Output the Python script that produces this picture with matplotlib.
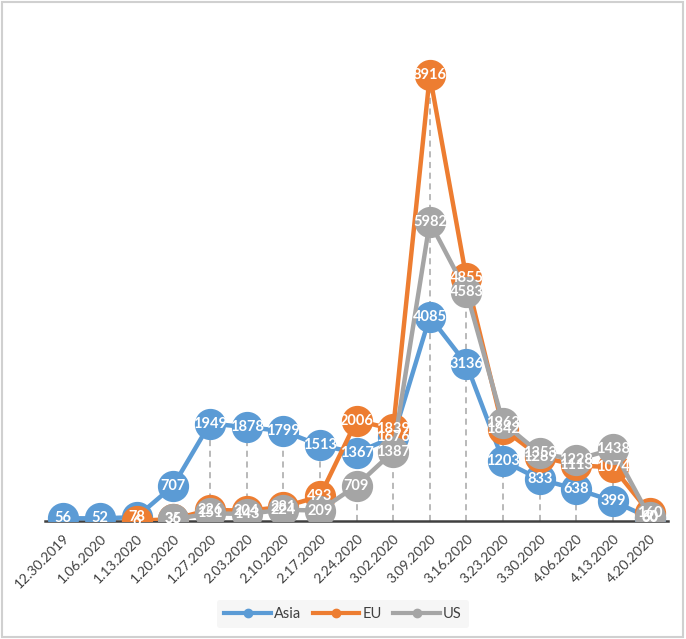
import matplotlib
matplotlib.use("Agg")
import matplotlib.pyplot as plt
from matplotlib.patches import Rectangle

# weekly counts per region
dates = ["12.30.2019", "1.06.2020", "1.13.2020", "1.20.2020", "1.27.2020",
         "2.03.2020", "2.10.2020", "2.17.2020", "2.24.2020", "3.02.2020",
         "3.09.2020", "3.16.2020", "3.23.2020", "3.30.2020", "4.06.2020",
         "4.13.2020", "4.20.2020"]
asia = [56, 52, 78, 707, 1949, 1878, 1799, 1513, 1367, 1676,
        4085, 3136, 1203, 833, 638, 399, 60]
eu = [0, 0, 6, 36, 226, 204, 281, 493, 2006, 1839,
      8916, 4855, 1842, 1289, 1113, 1074, 160]
us = [0, 0, 0, 35, 151, 143, 224, 209, 709, 1387,
      5982, 4583, 1963, 1353, 1228, 1438, 80]
# no data for the first weeks in EU / US
eu_start = 2
us_start = 3

plt.rcParams['font.family'] = ['Lato', 'DejaVu Sans']

fig = plt.figure(figsize=(6.86, 6.39), dpi=100)
ax = fig.add_axes([45/686, 1 - 521/639, (668-45)/686, 500/639])

x = list(range(len(dates)))

# drop lines from the highest point down to the axis
for i in x:
    vals = [asia[i]]
    if i >= eu_start:
        vals.append(eu[i])
    if i >= us_start:
        vals.append(us[i])
    ax.plot([i, i], [0, max(vals)], color='#A6A6A6', lw=1.1,
            ls=(0, (4, 3)), zorder=1)

series = [
    ("Asia", x, asia, '#5B9BD5'),
    ("EU", x[eu_start:], eu[eu_start:], '#ED7D31'),
    ("US", x[us_start:], us[us_start:], '#A5A5A5'),
]

for k, (name, xs, ys, c) in enumerate(series):
    ax.plot(xs, ys, '-o', color=c, lw=3.2, ms=21.5, mec=c, label=name, zorder=3 + k)

for k, (name, xs, ys, c) in enumerate(series):
    for xi, yi in zip(xs, ys):
        ax.text(xi, yi, str(yi), ha='center', va='center', color='white',
                fontsize=10.5, fontweight='bold', zorder=10)

ax.set_xlim(-0.5, len(dates) - 0.5)
ax.set_ylim(0, 10000)
ax.set_yticks([])
ax.set_xticks(x)
ax.set_xticklabels(dates, rotation=45, ha='right', rotation_mode='anchor',
                   fontsize=10, color='#404040')
ax.tick_params(axis='x', length=0, pad=8)
for s in ['top', 'right', 'left']:
    ax.spines[s].set_visible(False)
ax.spines['bottom'].set_color('#404040')
ax.spines['bottom'].set_linewidth(1.8)
ax.spines['bottom'].set_zorder(2)
ax.patch.set_visible(False)

handles = []
for name, xs, ys, c in series:
    h, = plt.plot([], [], '-o', color=c, lw=3, ms=6, label=name)
    handles.append(h)
leg = fig.legend(handles=handles, loc='center', bbox_to_anchor=(343/686, 1 - 614/639),
                 ncol=3, frameon=True, fontsize=10.5, handlelength=3.2,
                 handletextpad=0.2, columnspacing=0.8, borderpad=0.5)
leg.get_frame().set_facecolor('#F4F4F4')
leg.get_frame().set_edgecolor('none')
for t in leg.get_texts():
    t.set_color('#404040')

fig.patches.append(Rectangle((2/686, 2/639), 681/686, 635/639, transform=fig.transFigure,
                             fill=False, edgecolor='#D0D0D0', lw=1.5))

fig.savefig("out.png", dpi=100)
